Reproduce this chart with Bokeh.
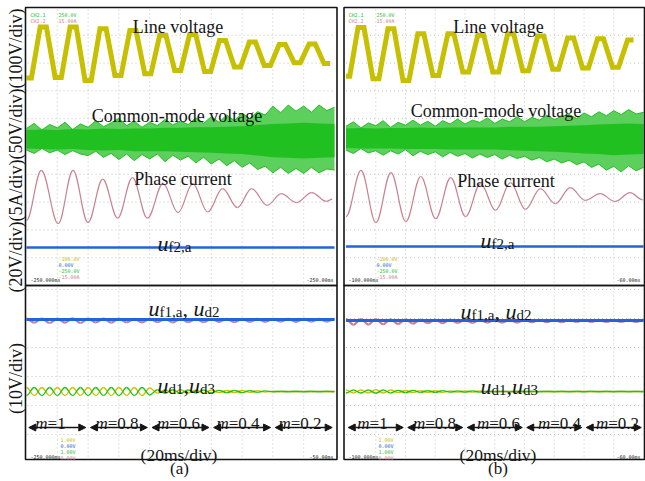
import numpy as np
from bokeh.plotting import figure
from bokeh.models import Range1d, Arrow, NormalHead, ColumnDataSource
from bokeh.core.properties import value
from bokeh.embed import file_html
from bokeh.resources import INLINE

# ---------------------------------------------------------------------------
# Recorded waveforms.  Time in ms (20 ms/div, 10 div), levels in V or A.
# ---------------------------------------------------------------------------
T_END = 200.0
M_LABELS = ["1", "0.8", "0.6", "0.4", "0.2"]
M_EDGES = [0, 40, 80, 120, 160, 200]

# line voltage: plateau levels of the staircase (time of plateau centre, V)
lv_t_a = [1.2, 10.9, 20.6, 30.3, 40.0, 49.7, 59.4, 69.1, 78.8, 88.5, 98.2,
          107.9, 117.6, 127.3, 137.0, 146.7, 156.4, 166.1, 175.8, 185.5, 195.2]
lv_v_a = [-88, 95, -86, 95, -97, 89, -79, 83, -73, 66, -61,
          68, -65, 47, -49, 41, -43, 32, -33, 34, -36]
lv_t_b = [0.5, 10.1, 20.1, 30.2, 40.3, 50.3, 60.4, 70.5, 80.5, 90.6, 100.7,
          110.7, 120.8, 130.9, 140.9, 151.0, 161.0, 171.1, 181.2, 191.3]
lv_v_b = [-80, 95, -89, 91, -95, 73, -77, 73, -65, 67, -65,
          73, -60, 65, -55, 58, -50, 55, -48, 50]

# common-mode voltage: upper / lower envelope every 5 ms, dense core every 10 ms
env_t = list(range(0, 205, 5))
core_t = list(range(0, 210, 10))
cm_hi_a = [20, 29, 17, 27, 21, 31, 18, 28, 22, 34, 23, 30, 38, 25, 33, 22, 31, 25, 36, 26,
           33, 27, 39, 29, 41, 31, 44, 34, 47, 38, 50, 44, 60, 48, 62, 51, 60, 49, 62, 52, 58]
cm_lo_a = [-19, -25, -16, -24, -19, -27, -20, -26, -29, -21, -32, -25, -36, -26, -38, -27, -35, -26, -40, -28,
           -37, -30, -42, -32, -44, -35, -47, -38, -50, -42, -54, -48, -60, -50, -61, -52, -61, -50, -60, -53, -55]
cm_core_hi_a = [17, 18, 17, 19, 18, 20, 19, 20, 20, 21, 21, 22, 22, 23, 24, 26, 28, 29, 30, 29, 28]
cm_core_lo_a = [-16, -17, -18, -17, -19, -20, -19, -21, -21, -21, -22, -23, -24, -25, -26, -29, -32, -33, -34, -33, -32]
cm_hi_b = [22, 30, 19, 28, 23, 32, 20, 29, 24, 33, 24, 31, 22, 32, 26, 35, 26, 33, 29, 37,
           27, 35, 30, 39, 30, 38, 33, 42, 34, 40, 43, 36, 46, 39, 48, 41, 50, 43, 52, 44, 47]
cm_lo_b = [-21, -27, -18, -26, -22, -30, -22, -28, -20, -31, -23, -29, -24, -33, -25, -32, -27, -35, -28, -34,
           -29, -37, -30, -36, -32, -39, -34, -42, -37, -44, -39, -47, -42, -52, -46, -57, -50, -60, -49, -58, -52]
cm_core_hi_b = [18, 19, 18, 19, 19, 20, 19, 20, 20, 20, 20, 21, 21, 21, 22, 23, 24, 25, 26, 27, 26]
cm_core_lo_b = [-17, -18, -18, -18, -19, -19, -19, -20, -20, -20, -20, -21, -22, -23, -24, -25, -27, -28, -30, -29, -28]

# phase current: successive peaks and troughs (ms, A)
cur_t_a = [0, 9.6, 20.6, 30.2, 39.9, 49.5, 59.2, 68.8, 78.5, 88.7, 98.4, 108.0,
           117.7, 127.3, 137.0, 146.2, 156.3, 165.4, 175.3, 185.2, 194.9, 198.5]
cur_v_a = [-4.2, 4.8, -4.8, 4.8, -4.6, 3.2, -3.8, 3.5, -3.8, 2.4, -2.8, 2.4,
           -2.7, 1.5, -1.9, 1.5, -1.5, 0.6, -1.0, 0.8, -0.8, -0.4]
cur_t_b = [0, 10.1, 20.1, 30.2, 40.2, 50.3, 60.3, 70.4, 80.4, 90.5, 100.5, 110.6,
           120.6, 130.7, 140.7, 150.8, 160.8, 170.9, 180.9, 191.0, 199.5]
cur_v_b = [-3.6, 4.7, -4.7, 4.3, -4.5, 3.6, -4.0, 3.4, -3.6, 2.3, -2.5, 2.5,
           -2.3, 1.4, -1.3, 1.6, -0.7, 0.5, -0.9, 0.7, -0.6]

# filter voltages (V)
flat_t = [0, 200]
uf2_a = [0, 0]
uf2_b = [0, 0]
uf1_a = [0, 0]
uf1_b = [0, 0]

# dc-link ripple extremes every 5 ms (V, deviation from mean)
ud2_a = [0.3, -1.1, 0.3, -1.2, 0.3, -1.1, 0.4, -1.2, 0.3, -1.0, 0.3, -1.1, 0.3, -1.0, 0.2, -1.0,
         0.3, -0.9, 0.2, -1.0, 0.3, -0.9, 0.2, -0.9, 0.2, -0.8, 0.2, -0.9, 0.2, -0.8, 0.2, -0.8,
         0.2, -0.7, 0.2, -0.8, 0.2, -0.7, 0.2, -0.7, 0.2]
ud2_b = [0.5, -1.5, 0.5, -1.4, 0.5, -1.3, 0.4, -1.2, 0.4, -1.1, 0.3, -0.9, 0.3, -0.9, 0.3, -0.8,
         0.3, -0.8, 0.2, -0.7, 0.2, -0.7, 0.2, -0.7, 0.2, -0.6, 0.2, -0.6, 0.2, -0.6, 0.2, -0.5,
         0.2, -0.5, 0.2, -0.5, 0.2, -0.5, 0.2, -0.5, 0.2]
ud1_a = [1.4, -1.4, 1.4, -1.4, 1.4, -1.4, 1.4, -1.4, 1.4, -1.4, 1.4, -1.4, 1.4, -1.4, 1.4, -1.4,
         1.2, -0.6, 0.6, -0.6, 0.6, -0.5, 0.5, -0.5, 0.5, -0.4, 0.4, -0.4, 0.4, -0.3, 0.3, -0.2,
         0.1, -0.1, 0.1, -0.1, 0.1, -0.1, 0.1, -0.1, 0.1]
ud3_a = [-1.4, 1.4, -1.4, 1.4, -1.4, 1.4, -1.4, 1.4, -1.4, 1.4, -1.4, 1.4, -1.4, 1.4, -1.4, 1.4,
         -1.2, 0.6, -0.6, 0.6, -0.6, 0.5, -0.5, 0.5, -0.5, 0.4, -0.4, 0.4, -0.4, 0.3, -0.3, 0.2,
         -0.1, 0.1, -0.1, 0.1, -0.1, 0.1, -0.1, 0.1, -0.1]
ud1_b = [0.5, -0.5, 0.5, -0.5, 0.6, -0.5, 0.5, -0.4, 0.4, -0.4, 0.3, -0.3, 0.3, -0.3, 0.2, -0.2,
         0.2, -0.2, 0.2, -0.1, 0.1, -0.1, 0.1, -0.1, 0.1, -0.1, 0.1, -0.1, 0.1, -0.1, 0.1, -0.1,
         0.1, -0.1, 0.1, -0.1, 0.1, -0.1, 0.1, -0.1, 0.1]
ud3_b = [-0.5, 0.5, -0.5, 0.5, -0.6, 0.5, -0.5, 0.4, -0.4, 0.4, -0.3, 0.3, -0.3, 0.3, -0.2, 0.2,
         -0.2, 0.2, -0.2, 0.1, -0.1, 0.1, -0.1, 0.1, -0.1, 0.1, -0.1, 0.1, -0.1, 0.1, -0.1, 0.1,
         -0.1, 0.1, -0.1, 0.1, -0.1, 0.1, -0.1, 0.1, -0.1]

# ---------------------------------------------------------------------------
# Page geometry (px) and channel settings
# ---------------------------------------------------------------------------
W, H = 645, 481
SERIF = "Liberation Serif"
MONO = "DejaVu Sans Mono"
INK = "#151515"
YELLOW, GREEN, PINK, BLUE = "#c6c000", "#1fc01f", "#c98090", "#2563dc"
GREEN_LIGHT = "#5ccf5c"

FRAME_X = {"a": (25.0, 336.5), "b": (343.5, 644.0)}
TRACE_X = {"a": (26.0, 334.0), "b": (345.5, 643.0)}
ROW_TOP = (7.0, 285.0)
ROW_BOT = (285.0, 459.0)
DIV_TOP = 27.8
DIV_BOT = 29.0

CHANNELS = {
    "lv": dict(scale=100.0, div=DIV_TOP, zero={"a": 53.0, "b": 53.5}),
    "cm": dict(scale=50.0, div=DIV_TOP, zero={"a": 139.0, "b": 138.0}),
    "cur": dict(scale=5.0, div=DIV_TOP, zero={"a": 196.5, "b": 196.0}),
    "uf2": dict(scale=20.0, div=DIV_TOP, zero={"a": 247.0, "b": 246.0}),
    "uf1": dict(scale=10.0, div=DIV_BOT, zero={"a": 319.0, "b": 320.0}),
    "ud": dict(scale=10.0, div=DIV_BOT, zero={"a": 391.0, "b": 391.0}),
}


def time_range(px0, px1):
    k = (px1 - px0) / T_END
    return Range1d(start=-px0 / k, end=(W - px0) / k)


def level_range(zero_px, px_per_unit):
    return Range1d(start=(zero_px - H) / px_per_unit, end=zero_px / px_per_unit)


p = figure(width=W, height=H, output_backend="svg", toolbar_location=None,
           x_range=Range1d(0, W), y_range=Range1d(H, 0),
           x_axis_location=None, y_axis_location=None, min_border=0)
p.outline_line_color = None
p.xgrid.grid_line_color = None
p.ygrid.grid_line_color = None
p.background_fill_color = "white"

p.extra_x_ranges = {f"t{c}": time_range(*TRACE_X[c]) for c in "ab"}
p.extra_y_ranges = {
    f"{c}_{name}": level_range(ch["zero"][c], ch["div"] / ch["scale"])
    for name, ch in CHANNELS.items() for c in "ab"
}

# ---- graticule ----
for c in "ab":
    fx0, fx1 = FRAME_X[c]
    grid_t = [20 * k for k in range(1, 10)]
    for (y0, y1) in (ROW_TOP, ROW_BOT):
        p.segment(x0=grid_t, x1=grid_t, y0=[y0 + 2] * 9, y1=[y1 - 2] * 9,
                  x_range_name=f"t{c}", line_color="#c4c4c4", line_width=1,
                  line_dash="1 3")
    top_lines = [ROW_TOP[0] + DIV_TOP * k for k in range(1, 10)]
    bot_lines = [289.0 + DIV_BOT * k for k in range(0, 6)]
    ys = top_lines + bot_lines
    p.segment(x0=[fx0 + 2] * len(ys), x1=[fx1 - 2] * len(ys), y0=ys, y1=ys,
              line_color="#c4c4c4", line_width=1, line_dash="1 3")


def plateau_path(t, v, half=2.0):
    xs, ys = [], []
    for ti, vi in zip(t, v):
        xs += [max(ti - half, 0.0), min(ti + half, T_END)]
        ys += [vi, vi]
    return xs, ys


def smooth(col, ch, t, v, color, width, alpha=1.0):
    # cubic half-wave segments with flat tangents at each extreme
    t = np.asarray(t, float)
    v = np.asarray(v, float)
    d = np.diff(t)
    src = ColumnDataSource(dict(
        x0=t[:-1], y0=v[:-1], x1=t[1:], y1=v[1:],
        cx0=t[:-1] + 0.364 * d, cy0=v[:-1], cx1=t[1:] - 0.364 * d, cy1=v[1:]))
    p.bezier(x0="x0", y0="y0", x1="x1", y1="y1", cx0="cx0", cy0="cy0",
             cx1="cx1", cy1="cy1", source=src, line_color=color,
             line_width=width, line_alpha=alpha,
             x_range_name=f"t{col}", y_range_name=f"{col}_{ch}")


DATA = {
    "a": dict(lv=(lv_t_a, lv_v_a), cm=(cm_hi_a, cm_lo_a, cm_core_hi_a, cm_core_lo_a),
              cur=(cur_t_a, cur_v_a), uf2=uf2_a, uf1=uf1_a, ud2=ud2_a, ud1=ud1_a, ud3=ud3_a),
    "b": dict(lv=(lv_t_b, lv_v_b), cm=(cm_hi_b, cm_lo_b, cm_core_hi_b, cm_core_lo_b),
              cur=(cur_t_b, cur_v_b), uf2=uf2_b, uf1=uf1_b, ud2=ud2_b, ud1=ud1_b, ud3=ud3_b),
}

for c in "ab":
    d = DATA[c]
    tx = f"t{c}"
    # line voltage
    xs, ys = plateau_path(*d["lv"])
    p.line(xs, ys, line_color=YELLOW, line_width=5, line_join="miter",
           x_range_name=tx, y_range_name=f"{c}_lv")
    # common-mode voltage
    hi, lo, chi, clo = d["cm"]
    p.varea(x=env_t, y1=lo, y2=hi, fill_color=GREEN_LIGHT,
            x_range_name=tx, y_range_name=f"{c}_cm")
    p.line(env_t, hi, line_color=GREEN, line_width=1, x_range_name=tx, y_range_name=f"{c}_cm")
    p.line(env_t, lo, line_color=GREEN, line_width=1, x_range_name=tx, y_range_name=f"{c}_cm")
    p.varea(x=core_t, y1=clo, y2=chi, fill_color=GREEN,
            x_range_name=tx, y_range_name=f"{c}_cm")
    # phase current
    smooth(c, "cur", *d["cur"], PINK, 1.2)
    # filter-capacitor voltage
    p.line(flat_t, d["uf2"], line_color=BLUE, line_width=2.5,
           x_range_name=tx, y_range_name=f"{c}_uf2")
    # lower screen
    smooth(c, "uf1", env_t, d["ud2"], PINK, 2.2)
    p.line(flat_t, d["uf1"], line_color=BLUE, line_width=3,
           x_range_name=tx, y_range_name=f"{c}_uf1")
    smooth(c, "ud", env_t, d["ud1"], YELLOW, 1.4)
    smooth(c, "ud", env_t, d["ud3"], GREEN, 1.4)

# ---- frames ----
for c in "ab":
    fx0, fx1 = FRAME_X[c]
    for (y0, y1) in (ROW_TOP, ROW_BOT):
        p.quad(left=fx0, right=fx1, top=y0, bottom=y1, fill_color=None,
               line_color=INK, line_width=1.6)

# ---- text helpers ----
ADV = {"u": 500, "f": 333, "1": 500, "2": 500, "3": 500, ",": 250, "a": 444,
       "d": 500, " ": 250, "m": 722, "=": 564, "0": 500, ".": 250, "4": 500,
       "6": 500, "8": 500}


def run_width(s, size):
    return sum(ADV.get(ch, 500) for ch in s) * size / 1000.0


def rich(x, base, runs, align="left"):
    total = sum(run_width(s, sz) for s, sz, st, dy in runs)
    cx = x - total / 2.0 if align == "center" else x
    for s, sz, st, dy in runs:
        p.text(x=[cx], y=[base + dy], text=[s], text_font=value(SERIF),
               text_font_size=f"{sz}px", text_font_style=st, text_align="left",
               text_baseline="alphabetic", text_color=INK)
        cx += run_width(s, sz)


def plain(x, y, s, size=18, align="center", angle=0.0, baseline="alphabetic"):
    p.text(x=[x], y=[y], text=[s], text_font=value(SERIF), text_font_size=f"{size}px",
           text_align=align, text_baseline=baseline, angle=angle, text_color=INK)


U, SUB = 22, 15
LABELS = {
    "a": dict(lv=(177.5, 26), cm=(176.5, 115), cur=(182.5, 178),
              uf2=(157, 243), uf1=(148, 308), ud=(157, 385),
              m=[50, 116.5, 178, 237.5, 299.5], scale=(178.5, 454), tag=(179, 468, "(a)")),
    "b": dict(lv=(498, 26.5), cm=(495.5, 110), cur=(505.5, 180),
              uf2=(480, 240), uf1=(460, 311), ud=(480, 386),
              m=[372, 434, 498, 559, 617], scale=(497.5, 454), tag=(497.5, 468, "(b)")),
}

for c in "ab":
    L = LABELS[c]
    plain(*L["lv"], "Line voltage")
    plain(*L["cm"], "Common-mode voltage")
    plain(*L["cur"], "Phase current")
    rich(*L["uf2"], [("u", U, "italic", 0), ("f2,a", SUB, "normal", 3)])
    rich(*L["uf1"], [("u", U, "italic", 0), ("f1,a", SUB, "normal", 3),
                     (", ", U, "normal", 0), ("u", U, "italic", 0), ("d2", SUB, "normal", 3)])
    rich(*L["ud"], [("u", U, "italic", 0), ("d1", SUB, "normal", 3),
                    (",", U, "normal", 0), ("u", U, "italic", 0), ("d3", SUB, "normal", 3)])
    for mx, m in zip(L["m"], M_LABELS):
        rich(mx, 423, [("m", 17, "italic", 0), ("=" + m, 17, "normal", 0)], align="center")
    plain(*L["scale"], "(20ms/div)", size=17.5)
    tx, ty, tag = L["tag"]
    plain(tx, ty, tag, size=17, baseline="middle")

    # modulation-index intervals
    arr = ColumnDataSource(dict(xs=[e + 1.5 for e in M_EDGES[:-1]],
                                xe=[e - 1.5 for e in M_EDGES[1:]],
                                y=[427.0] * 5))
    p.add_layout(Arrow(start=NormalHead(size=7, fill_color=INK, line_color=INK, line_width=1),
                       end=NormalHead(size=7, fill_color=INK, line_color=INK, line_width=1),
                       x_start="xs", x_end="xe", y_start="y", y_end="y", source=arr,
                       line_color=INK, line_width=1.3, x_range_name=f"t{c}"))

# vertical-scale captions
plain(15, 150, "(20V/div)(5A/div)(50V/div)(100V/div)", size=18, angle=np.pi / 2,
      baseline="middle")
plain(15, 378, "(10V/div)", size=18, angle=np.pi / 2, baseline="middle")

# ---- scope read-outs ----
for c, x0 in (("a", 30), ("b", 348)):
    p.text(x=[x0, x0, x0 + 28, x0 + 28], y=[14, 20, 14, 20],
           text=["CH2.1", "CH2.2", "250.0V", "15.00A"],
           text_color=[GREEN, PINK, GREEN, PINK], text_font=value(MONO),
           text_font_size="5px", text_baseline="middle")
    p.text(x=[x0 + 28] * 4, y=[258, 264, 270, 276],
           text=["-100.0V", "0.00V", "-250.0V", "-15.00A"],
           text_color=[YELLOW, BLUE, GREEN, PINK], text_font=value(MONO),
           text_font_size="5px", text_baseline="middle")
    p.text(x=[x0 + 30] * 4, y=[439, 445, 451, 457],
           text=["1.00V", "0.00V", "1.00V", "0.00V"],
           text_color=[YELLOW, BLUE, GREEN, PINK], text_font=value(MONO),
           text_font_size="5px", text_baseline="middle")
p.text(x=[30, 348, 30, 348], y=[279, 279, 456, 456],
       text=["-250.000ms", "-100.000ms", "-250.000ms", "-100.000ms"],
       text_color=INK, text_font=value(MONO), text_font_size="5px",
       text_baseline="middle")
p.text(x=[333, 640, 333, 640], y=[279, 279, 456, 456],
       text=["-250.00ms", "-60.00ms", "-50.00ms", "-60.00ms"],
       text_color=INK, text_font=value(MONO), text_font_size="5px",
       text_baseline="middle", text_align="right")

open("out.html", "w").write(file_html(p, INLINE))
